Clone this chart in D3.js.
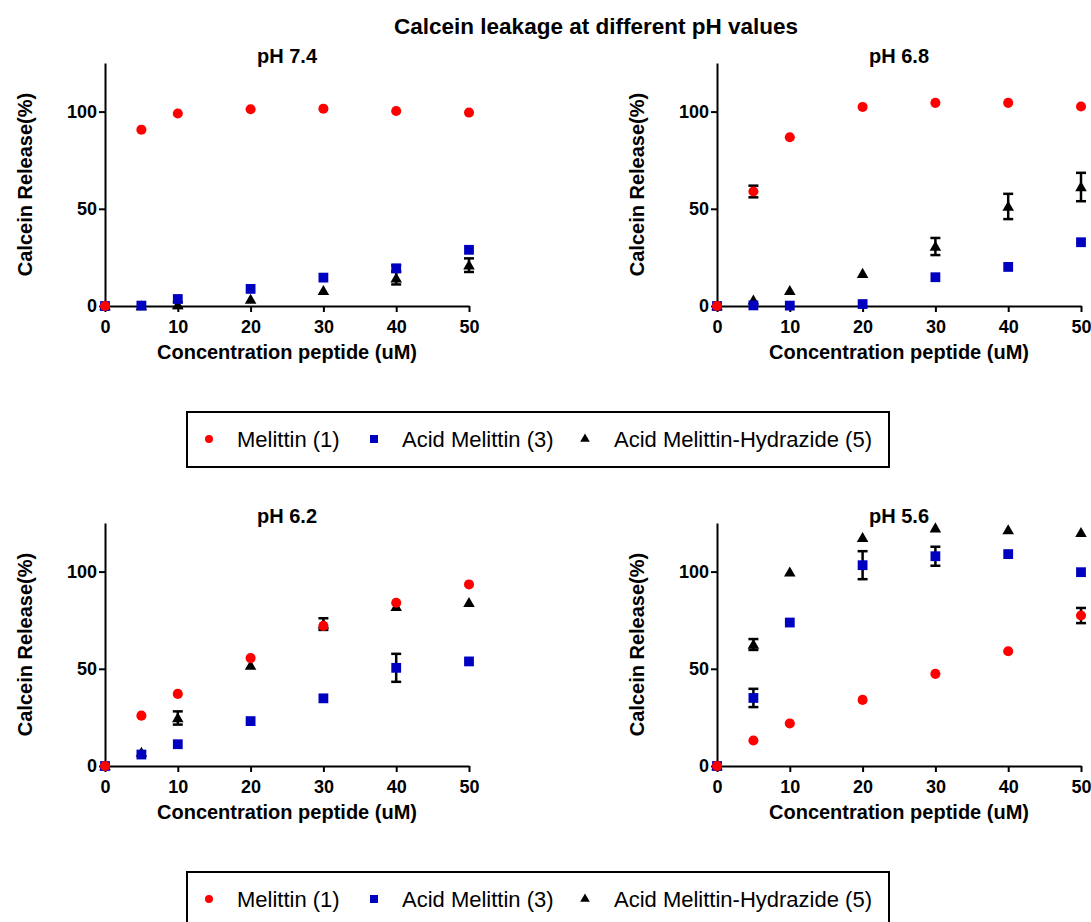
<!DOCTYPE html>
<html>
<head>
<meta charset="utf-8">
<script src="https://cdn.jsdelivr.net/npm/d3@7"></script>
<style>
  body { margin: 0; background: #fff; }
  svg { display: block; font-family: "Liberation Sans", Arial, sans-serif; }
</style>
</head>
<body>
<svg id="chart" width="1091" height="922"></svg>
<script>
// data
var concentrations = [0, 5, 10, 20, 30, 40, 50];
var phLabels = ["pH 7.4", "pH 6.8", "pH 6.2", "pH 5.6"];
var seriesNames = ["Melittin (1)", "Acid Melittin (3)", "Acid Melittin-Hydrazide (5)"];
var xTicks = [0, 10, 20, 30, 40, 50];
var yTicks = [0, 50, 100];

// pH 7.4
var melittin74 = [0, 90.7, 99, 101.2, 101.5, 100.3, 99.5];
var acid74     = [0, 0.2, 3.6, 8.8, 14.6, 19.4, 28.9];
var hydra74    = [0, 0, 0.5, 3.4, 7.9, 14.3, 21];
var melittin74Err = [0, 0, 0, 0, 0, 0, 0];
var acid74Err     = [0, 0, 0, 0, 0, 1.5, 0];
var hydra74Err    = [0, 0, 1.5, 0, 0, 3.2, 3.5];

// pH 6.8
var melittin68 = [0, 58.9, 86.8, 102.4, 104.5, 104.5, 102.6];
var acid68     = [0, 0.3, 0.2, 1, 14.8, 20.1, 32.8];
var hydra68    = [0, 3, 7.9, 16.7, 30.6, 51.2, 61.2];
var melittin68Err = [0, 3, 0, 0, 0, 0, 0];
var acid68Err     = [0, 0, 0, 0, 0, 0, 0];
var hydra68Err    = [0, 0, 0, 0, 4.4, 6.5, 7.3];

// pH 6.2
var melittin62 = [0, 25.9, 37.1, 55.5, 72.1, 84, 93.4];
var acid62     = [0, 5.9, 11.2, 23.1, 34.8, 50.5, 53.8];
var hydra62    = [0, 7, 24.7, 51.7, 73, 82, 84];
var melittin62Err = [0, 0, 0, 0, 0, 0, 0];
var acid62Err     = [0, 0, 0, 0, 0, 7.2, 0];
var hydra62Err    = [0, 0, 3.4, 0, 3, 0, 0];

// pH 5.6
var melittin56 = [0, 13.1, 21.9, 34, 47.4, 59, 77.4];
var acid56     = [0, 35, 73.8, 103.3, 107.9, 109, 99.7];
var hydra56    = [0, 62.5, 99.7, 117.5, 122.4, 121.4, 120];
var melittin56Err = [0, 0, 0, 0, 0, 0, 3.9];
var acid56Err     = [0, 4.7, 0, 7.2, 4.9, 0, 0];
var hydra56Err    = [0, 2.8, 0, 0, 0, 0, 0];

var panelData = [
  [melittin74, acid74, hydra74, melittin74Err, acid74Err, hydra74Err],
  [melittin68, acid68, hydra68, melittin68Err, acid68Err, hydra68Err],
  [melittin62, acid62, hydra62, melittin62Err, acid62Err, hydra62Err],
  [melittin56, acid56, hydra56, melittin56Err, acid56Err, hydra56Err]
];

// marker styles per series
var colors = ["#ff0000", "#0000c0", "#000000"];
var shapes = [d3.symbolCircle, d3.symbolSquare, d3.symbolTriangle];
var sizes = [80, 96, 58];

// layout
var panelPos = [[105, 63], [717, 63], [105, 523], [717, 523]];
var plotW = 364, plotH = 243;
var legendTops = [412, 872];

var svg = d3.select("#chart");

svg.append("text")
  .attr("x", 596)
  .attr("y", 34)
  .attr("text-anchor", "middle")
  .attr("font-size", 22.5)
  .attr("font-weight", "bold")
  .text("Calcein leakage at different pH values");

panelPos.forEach(function(p, i){
  drawPanel(p, i);
});
legendTops.forEach(function(t){
  drawLegend(t);
});

function drawPanel(pos, idx){
  var g = svg.append("g").attr("transform", "translate(" + pos[0] + "," + pos[1] + ")");
  var x = d3.scaleLinear().domain([0, 50]).range([0, plotW]);
  var y = d3.scaleLinear().domain([0, 125]).range([plotH, 0]);

  // axes
  var yAxis = g.append("g")
    .call(d3.axisLeft(y).tickValues(yTicks).tickSize(6).tickSizeOuter(0).tickPadding(2));
  var xAxis = g.append("g")
    .attr("transform", "translate(0," + plotH + ")")
    .call(d3.axisBottom(x).tickValues(xTicks).tickSize(6).tickSizeOuter(0).tickPadding(8));
  [xAxis, yAxis].forEach(function(a){
    a.selectAll("path, line").attr("stroke", "#000").attr("stroke-width", 2);
    a.selectAll("text")
      .attr("fill", "#000")
      .attr("font-size", 18)
      .attr("font-weight", "bold")
      .attr("font-family", "'Liberation Sans', Arial, sans-serif");
  });

  // titles
  g.append("text")
    .attr("x", plotW / 2)
    .attr("y", 0)
    .attr("text-anchor", "middle")
    .attr("font-size", 20)
    .attr("font-weight", "bold")
    .text(phLabels[idx]);
  g.append("text")
    .attr("x", plotW / 2)
    .attr("y", plotH + 53)
    .attr("text-anchor", "middle")
    .attr("font-size", 20)
    .attr("font-weight", "bold")
    .text("Concentration peptide (uM)");
  g.append("text")
    .attr("transform", "translate(-73," + (plotH / 2) + ") rotate(-90)")
    .attr("text-anchor", "middle")
    .attr("font-size", 20)
    .attr("font-weight", "bold")
    .text("Calcein Release(%)");

  // series: triangles first, then squares, circles on top
  var d = panelData[idx];
  [2, 1, 0].forEach(function(s){
    var vals = d[s], errs = d[s + 3];
    var pts = concentrations.map(function(c, k){ return {c: c, v: vals[k], e: errs[k]}; });
    var sg = g.append("g");

    var eb = sg.selectAll("g.err")
      .data(pts.filter(function(p){ return p.e > 0; }))
      .enter().append("g")
      .attr("stroke", "#000")
      .attr("stroke-width", 2.5);
    eb.append("line")
      .attr("x1", function(p){ return x(p.c); })
      .attr("x2", function(p){ return x(p.c); })
      .attr("y1", function(p){ return y(p.v - p.e); })
      .attr("y2", function(p){ return y(p.v + p.e); });
    eb.append("line")
      .attr("x1", function(p){ return x(p.c) - 5; })
      .attr("x2", function(p){ return x(p.c) + 5; })
      .attr("y1", function(p){ return y(p.v + p.e); })
      .attr("y2", function(p){ return y(p.v + p.e); });
    eb.append("line")
      .attr("x1", function(p){ return x(p.c) - 5; })
      .attr("x2", function(p){ return x(p.c) + 5; })
      .attr("y1", function(p){ return y(p.v - p.e); })
      .attr("y2", function(p){ return y(p.v - p.e); });

    sg.selectAll("path.mark")
      .data(pts)
      .enter().append("path")
      .attr("class", "mark")
      .attr("d", d3.symbol().type(shapes[s]).size(sizes[s]))
      .attr("transform", function(p){
        var off = s == 2 ? 1 : 0;  // triangle centroid sits a bit high
        return "translate(" + x(p.c) + "," + (y(p.v) + off) + ")";
      })
      .attr("fill", colors[s]);
  });
}

function drawLegend(top){
  var lg = svg.append("g").attr("transform", "translate(187," + top + ")");
  lg.append("rect")
    .attr("width", 702)
    .attr("height", 55)
    .attr("fill", "none")
    .attr("stroke", "#000")
    .attr("stroke-width", 2);
  var markX = [22, 187, 398];
  var textX = [50, 215, 427];
  var lsize = [50, 64, 40];
  seriesNames.forEach(function(name, i){
    lg.append("path")
      .attr("d", d3.symbol().type(shapes[i]).size(lsize[i]))
      .attr("transform", "translate(" + markX[i] + ",27)")
      .attr("fill", colors[i]);
    lg.append("text")
      .attr("x", textX[i])
      .attr("y", 35)
      .attr("font-size", 22)
      .text(name);
  });
}
</script>
</body>
</html>
